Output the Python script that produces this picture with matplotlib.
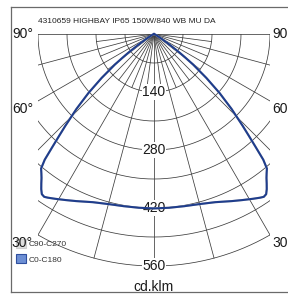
import numpy as np
import matplotlib
matplotlib.use("Agg")
import matplotlib.pyplot as plt
from matplotlib.patches import Rectangle, Patch
from matplotlib.lines import Line2D

plt.rcParams['font.family'] = ['Liberation Sans', 'DejaVu Sans']

# ---- data ----
title = "4310659 HIGHBAY IP65 150W/840 WB MU DA"
unit_label = "cd.klm"
ring_values = [70, 140, 210, 280, 350, 420, 490, 560]
ring_labels = [140, 280, 420, 560]
angle_labels = [90, 60, 30]
series_names = ["C90-C270", "C0-C180"]
# half-plane angles (deg from nadir) and intensities (cd/klm), symmetric
angles_c0 = [0, 5, 10, 15, 20, 25, 28, 31, 33, 34, 35, 36, 37, 38, 39, 40, 41, 42,
             43, 44, 46, 48, 50, 52, 53, 54, 56, 58, 60, 65, 70, 80, 90]
intens_c0 = [421, 421, 422, 425, 432, 445, 454, 464, 471, 474, 472, 463, 452, 441,
             432, 424, 402, 366, 335, 308, 260, 213, 165, 120, 95, 75, 40, 20, 10,
             4, 2, 0.5, 0]
angles_c90 = list(angles_c0)
intens_c90 = list(intens_c0)

# ---- layout ----
W, H = 288, 294
s = 0.4143          # px per cd
cx, cy = 154, 34    # centre in px
fig = plt.figure(figsize=(W / 100, H / 100), dpi=100)
ax = fig.add_axes([0, 0, 1, 1])
ax.set_xlim(-cx / s, (W - cx) / s)
ax.set_ylim(-(H - cy) / s, cy / s)
ax.axis('off')

def py(ypx):
    return -(ypx - cy) / s

def pxx(xpx):
    return (xpx - cx) / s

# frame
for seg in [((11, 11), (7, 292)), ((11, 300), (7, 7)), ((11, 300), (292, 292))]:
    fig.add_artist(Line2D([x / W for x in seg[0]], [1 - y / H for y in seg[1]],
                          color='#6a6a6a', lw=0.9, transform=fig.transFigure))

clip = Rectangle((-280, -600), 560, 600, transform=ax.transData, visible=False)
ax.add_patch(clip)
gc = '#3c3c3c'
glw = 0.55
Rmax = ring_values[-1]
t = np.radians(np.linspace(-90, 90, 721))
for r in ring_values:
    ln, = ax.plot(r * np.sin(t), -r * np.cos(t), color=gc, lw=glw, zorder=1)
    ln.set_clip_path(clip)
for a in np.arange(-90, 91, 15):
    ar = np.radians(a)
    ln, = ax.plot([0, Rmax * np.sin(ar)], [0, -Rmax * np.cos(ar)], color=gc, lw=glw, zorder=1)
    ln.set_clip_path(clip)
for a in np.arange(-82.5, 83, 15):
    ar = np.radians(a)
    ln, = ax.plot([0, 140 * np.sin(ar)], [0, -140 * np.cos(ar)], color=gc, lw=glw, zorder=1)
    ln.set_clip_path(clip)

# ring labels
for v in ring_labels:
    ax.text(0, -v, str(v), ha='center', va='center', fontsize=10, color='#1a1a1a',
            bbox=dict(boxstyle='square,pad=0.05', fc='white', ec='none'), zorder=3)

# angle labels
label_y = {90: 34, 60: 109, 30: 243}
for a in angle_labels:
    ax.text(pxx(33), py(label_y[a]), f"{a}°", ha='right', va='center', fontsize=10,
            color='#1a1a1a', zorder=7)
    ax.text(pxx(272), py(label_y[a]), f"{a}°", ha='left', va='center', fontsize=10,
            color='#1a1a1a', zorder=7)

# curves
def full(angles, vals):
    a = np.radians(np.concatenate([-np.array(angles[::-1]), np.array(angles[1:])]))
    v = np.concatenate([np.array(vals[::-1]), np.array(vals[1:])])
    return v * np.sin(a), -v * np.cos(a)

x90, y90 = full(angles_c90, intens_c90)
ax.plot(x90, y90, color='#c8c8c8', lw=1.5, zorder=4)
x0, y0 = full(angles_c0, intens_c0)
ax.plot(x0, y0, color='#1f3d8c', lw=1.5, zorder=5, solid_joinstyle='round')

# title, unit
ax.text(pxx(38), py(21), title, ha='left', va='center', fontsize=6, color='#222222')
ax.text(0, py(291), unit_label, ha='center', va='baseline', fontsize=10, color='#1a1a1a')

# legend
handles = [Patch(facecolor='#dedede', edgecolor='#cfcfcf', lw=0.8),
           Patch(facecolor='#6d8fd4', edgecolor='#2f4f9f', lw=0.8)]
leg = ax.legend(handles, series_names, loc='upper left', bbox_to_anchor=(16 / W, 1 - 239 / H),
                frameon=False, fontsize=6, handlelength=1.25, handleheight=1.25,
                handletextpad=0.25, labelspacing=0.75, borderpad=0, borderaxespad=0)
leg.set_zorder(2)
for txt in leg.get_texts():
    txt.set_color('#333333')

fig.savefig('out.png', dpi=100)
